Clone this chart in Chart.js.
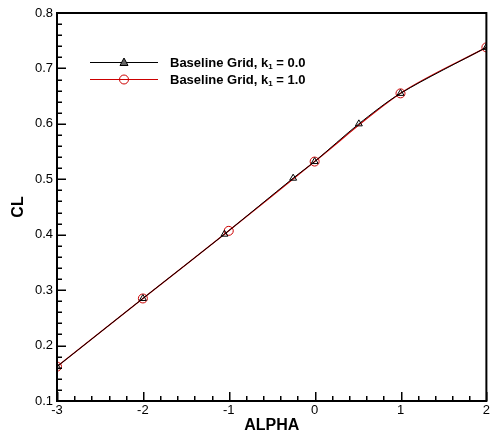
<!DOCTYPE html>
<html>
<head>
<meta charset="utf-8">
<script src="https://cdn.jsdelivr.net/npm/chart.js@4.4.1/dist/chart.umd.min.js"></script>
<style>
  html, body { margin: 0; padding: 0; background: #fff; }
  #wrap { width: 492px; height: 441px; position: relative; }
</style>
</head>
<body>
<div id="wrap"><canvas id="cl"></canvas></div>
<script>
// values
const alphaK0 = [-3, -2, -1.05, -0.25, 0, 0.515, 1, 2];
const clK0 = [0.162, 0.285, 0.401, 0.502, 0.532, 0.6, 0.655, 0.738];
const alphaK1 = [-3, -2, -1, 0, 1, 2];
const clK1 = [0.162, 0.285, 0.407, 0.532, 0.655, 0.738];
const xTicks = [-3, -2, -1, 0, 1, 2];
const yTicks = [0.1, 0.2, 0.3, 0.4, 0.5, 0.6, 0.7, 0.8];
const legendLabels = ['Baseline Grid, k', 'Baseline Grid, k'];
const legendSub = ['1', '1'];
const legendTail = [' = 0.0', ' = 1.0'];

const FONT = 'Arial, "Liberation Sans", sans-serif';

function toPoints(xs, ys) {
    return xs.map((x, i) => ({ x: x, y: ys[i] }));
}

// inward ticks + frame
const frameTicks = {
    id: 'frameTicks',
    afterDraw(chart) {
        const ctx = chart.ctx;
        const a = chart.chartArea;
        const sx = chart.scales.x;
        const sy = chart.scales.y;
        ctx.save();
        ctx.fillStyle = '#000';
        for (let i = 0; i <= 25; i++) {
            const px = Math.round(sx.getPixelForValue(-3 + i * 0.2));
            const len = (i % 5 === 0) ? 9 : 5;
            ctx.fillRect(px, a.bottom - len, 1.5, len);
        }
        for (let i = 0; i <= 35; i++) {
            const py = Math.round(sy.getPixelForValue(0.1 + i * 0.02));
            const len = (i % 5 === 0) ? 9 : 5;
            ctx.fillRect(a.left, py - 0.5, len, 1.5);
        }
        ctx.strokeStyle = '#000';
        ctx.lineWidth = 2;
        ctx.strokeRect(a.left, a.top, a.right - a.left, a.bottom - a.top);
        ctx.restore();
    }
};

// legend drawn inside the plot, with subscript
const innerLegend = {
    id: 'innerLegend',
    afterDraw(chart) {
        const { ctx } = chart;
        const rows = [62, 79];
        ctx.save();
        chart.data.datasets.forEach((ds, i) => {
            const y = rows[i];
            ctx.strokeStyle = ds.borderColor;
            ctx.lineWidth = 1;
            ctx.beginPath();
            ctx.moveTo(90, y + 0.5);
            ctx.lineTo(158, y + 0.5);
            ctx.stroke();
            ctx.beginPath();
            if (ds.pointStyle === 'triangle') {
                ctx.fillStyle = '#666';
                ctx.moveTo(124, y - 4);
                ctx.lineTo(128, y + 3.5);
                ctx.lineTo(120, y + 3.5);
                ctx.closePath();
                ctx.fill();
                ctx.strokeStyle = '#000';
                ctx.stroke();
            } else {
                ctx.arc(124, y + 0.5, 4.5, 0, Math.PI * 2);
                ctx.stroke();
            }
            ctx.fillStyle = '#000';
            ctx.textBaseline = 'middle';
            ctx.font = 'bold 13px ' + FONT;
            let x = 170;
            ctx.fillText(legendLabels[i], x, y + 1);
            x += ctx.measureText(legendLabels[i]).width;
            ctx.font = 'bold 8px ' + FONT;
            ctx.fillText(legendSub[i], x, y + 5);
            x += ctx.measureText(legendSub[i]).width;
            ctx.font = 'bold 13px ' + FONT;
            ctx.fillText(legendTail[i], x, y + 1);
        });
        ctx.restore();
    }
};

new Chart(document.getElementById('cl'), {
    type: 'line',
    data: {
        datasets: [
            {
                label: 'Baseline Grid, k1 = 0.0',
                data: toPoints(alphaK0, clK0),
                borderColor: '#000',
                borderWidth: 1,
                pointStyle: 'triangle',
                pointRadius: 4,
                pointBorderColor: '#000',
                pointBackgroundColor: 'rgba(0,0,0,0)',
                pointBorderWidth: 1,
                tension: 0.3,
                fill: false
            },
            {
                label: 'Baseline Grid, k1 = 1.0',
                data: toPoints(alphaK1, clK1),
                borderColor: '#cc0000',
                borderWidth: 1.2,
                pointStyle: 'circle',
                pointRadius: 4.5,
                pointBorderColor: '#cc0000',
                pointBackgroundColor: 'rgba(0,0,0,0)',
                pointBorderWidth: 1,
                tension: 0.3,
                fill: false
            }
        ]
    },
    options: {
        responsive: true,
        maintainAspectRatio: false,
        animation: false,
        layout: { padding: { top: 13, right: 5, left: 0, bottom: 0 } },
        plugins: {
            legend: { display: false },
            tooltip: { enabled: false }
        },
        scales: {
            x: {
                type: 'linear',
                min: -3,
                max: 2,
                afterBuildTicks: (scale) => { scale.ticks = xTicks.map(v => ({ value: v })); },
                afterFit: (scale) => { scale.height = 40; },
                grid: { display: false, drawTicks: false },
                border: { display: false },
                ticks: {
                    color: '#000',
                    font: { family: FONT, size: 13 },
                    padding: 2,
                    maxRotation: 0,
                    callback: (v) => String(v)
                },
                title: {
                    display: true,
                    text: 'ALPHA',
                    color: '#000',
                    font: { family: FONT, size: 16, weight: 'bold' },
                    padding: { top: 0, bottom: 6 }
                }
            },
            y: {
                type: 'linear',
                min: 0.1,
                max: 0.8,
                afterBuildTicks: (scale) => { scale.ticks = yTicks.map(v => ({ value: v })); },
                afterFit: (scale) => { scale.width = 57; },
                grid: { display: false, drawTicks: false },
                border: { display: false },
                ticks: {
                    color: '#000',
                    font: { family: FONT, size: 13 },
                    padding: 4,
                    callback: (v) => v.toFixed(1)
                },
                title: {
                    display: true,
                    text: 'CL',
                    color: '#000',
                    font: { family: FONT, size: 16, weight: 'bold' },
                    padding: { top: 9, bottom: 0 }
                }
            }
        }
    },
    plugins: [frameTicks, innerLegend]
});
</script>
</body>
</html>
